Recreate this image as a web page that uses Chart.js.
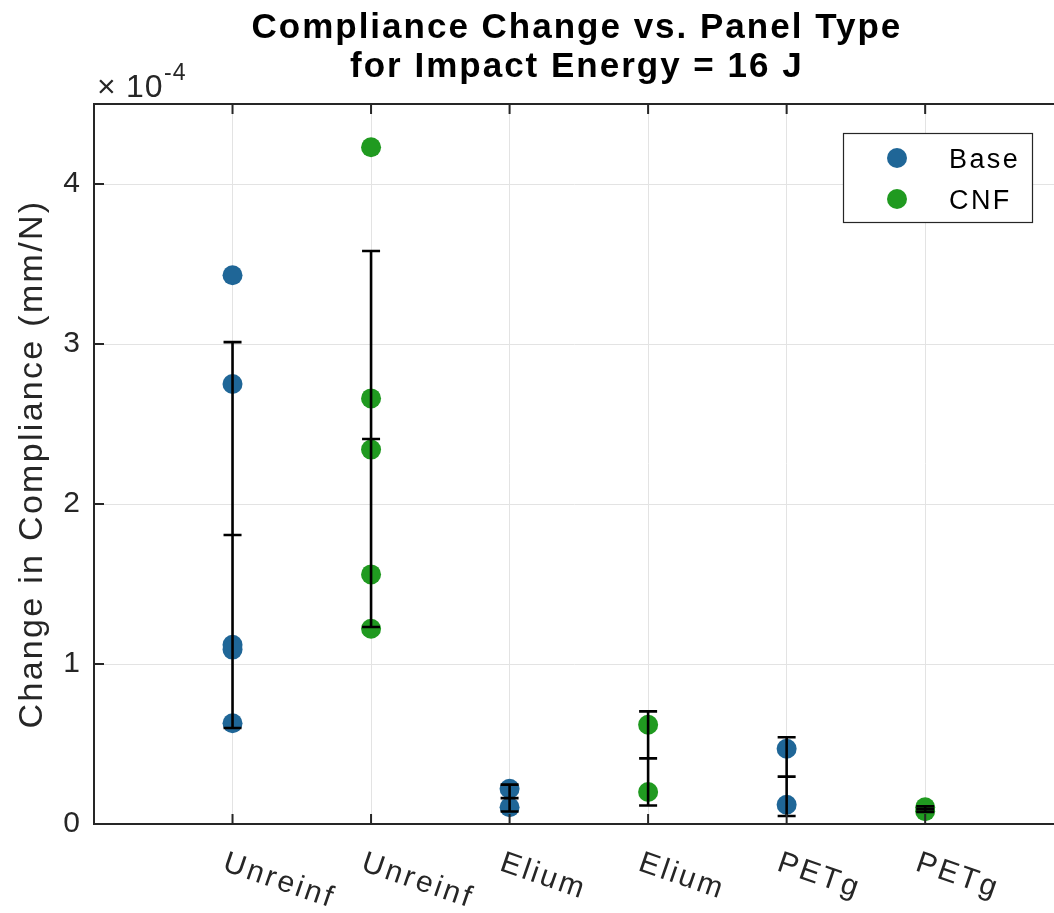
<!DOCTYPE html>
<html>
<head>
<meta charset="utf-8">
<script src="https://cdn.jsdelivr.net/npm/chart.js@4.4.1/dist/chart.umd.min.js"></script>
<style>
  body { margin: 0; background: #fff; }
  canvas { display: block; }
</style>
</head>
<body>
<canvas id="chart" width="1054" height="913"></canvas>
<script>
const categories = ["Unreinf", "Unreinf", "Elium", "Elium", "PETg", "PETg"];
const baseX = [1, 3, 5];
const cnfX = [2, 4, 6];

// change in compliance, units of 1e-4 mm/N
const baseUnreinf = [3.43, 2.75, 1.12, 1.09, 0.63];
const cnfUnreinf = [4.23, 2.66, 2.34, 1.56, 1.22];
const baseElium = [0.22, 0.105];
const cnfElium = [0.62, 0.20];
const basePETg = [0.47, 0.12];
const cnfPETg = [0.105, 0.08];

// error bars (mean +/- std), one per category
const errMean = [1.806, 2.406, 0.162, 0.41, 0.296, 0.093];
const errStd = [1.206, 1.175, 0.084, 0.294, 0.246, 0.018];

const yTicks = [0, 1, 2, 3, 4];

const baseColor = "#1f6697";
const cnfColor = "#209a20";
const axisColor = "#262626";
const gridColor = "#e3e3e3";
const fontFamily = "Arial, 'Liberation Sans', Helvetica, sans-serif";

function toPoints(x, values) {
    return values.map(v => ({ x: x, y: v }));
}

const basePoints = [
    ...toPoints(baseX[0], baseUnreinf),
    ...toPoints(baseX[1], baseElium),
    ...toPoints(baseX[2], basePETg)
];

const cnfPoints = [
    ...toPoints(cnfX[0], cnfUnreinf),
    ...toPoints(cnfX[1], cnfElium),
    ...toPoints(cnfX[2], cnfPETg)
];

const decorPlugin = {
    id: "decor",

    afterDatasetsDraw(chart) {
        const ctx = chart.ctx;
        const xs = chart.scales.x;
        const ys = chart.scales.y;

        // error bars on top of the markers
        ctx.save();
        ctx.strokeStyle = "#000";
        ctx.lineWidth = 2.6;
        errMean.forEach((m, i) => {
            const px = xs.getPixelForValue(i + 1);
            const top = ys.getPixelForValue(m + errStd[i]);
            const mid = ys.getPixelForValue(m);
            const bot = ys.getPixelForValue(m - errStd[i]);
            ctx.beginPath();
            ctx.moveTo(px, top);
            ctx.lineTo(px, bot);
            [top, mid, bot].forEach(py => {
                ctx.moveTo(px - 9, py);
                ctx.lineTo(px + 9, py);
            });
            ctx.stroke();
        });
        ctx.restore();
    },

    afterDraw(chart) {
        const ctx = chart.ctx;
        const area = chart.chartArea;
        const xs = chart.scales.x;
        const ys = chart.scales.y;

        ctx.save();

        // top box line
        ctx.strokeStyle = axisColor;
        ctx.lineWidth = 2;
        ctx.beginPath();
        ctx.moveTo(area.left, area.top);
        ctx.lineTo(area.right, area.top);
        ctx.stroke();

        // inward tick marks
        ctx.beginPath();
        categories.forEach((c, i) => {
            const px = xs.getPixelForValue(i + 1);
            ctx.moveTo(px, area.bottom);
            ctx.lineTo(px, area.bottom - 10);
            ctx.moveTo(px, area.top);
            ctx.lineTo(px, area.top + 10);
        });
        yTicks.forEach(v => {
            const py = ys.getPixelForValue(v);
            ctx.moveTo(area.left, py);
            ctx.lineTo(area.left + 10, py);
        });
        ctx.stroke();

        // rotated category labels
        ctx.fillStyle = axisColor;
        ctx.font = "30px " + fontFamily;
        ctx.letterSpacing = "2.8px";
        ctx.textAlign = "left";
        ctx.textBaseline = "alphabetic";
        categories.forEach((c, i) => {
            const px = xs.getPixelForValue(i + 1);
            ctx.save();
            ctx.translate(px - 11, 870);
            ctx.rotate(19 * Math.PI / 180);
            ctx.fillText(c, 0, 0);
            ctx.restore();
        });

        // y axis label
        ctx.save();
        ctx.font = "34px " + fontFamily;
        ctx.letterSpacing = "2.3px";
        ctx.textAlign = "center";
        ctx.translate(42, (area.top + area.bottom) / 2);
        ctx.rotate(-Math.PI / 2);
        ctx.fillText("Change in Compliance (mm/N)", 0, 0);
        ctx.restore();

        // exponent
        ctx.letterSpacing = "1px";
        ctx.font = "32px " + fontFamily;
        ctx.fillText("\u00d7", 97, 97);
        ctx.fillText("10", 126, 97);
        ctx.font = "23px " + fontFamily;
        ctx.fillText("-4", 164, 80);

        // title
        ctx.fillStyle = "#000";
        ctx.font = "bold 35px " + fontFamily;
        ctx.letterSpacing = "2px";
        ctx.textAlign = "center";
        const cx = xs.getPixelForValue(3.5) - 2;
        ctx.fillText("Compliance Change vs. Panel Type", cx, 38);
        ctx.fillText("for Impact Energy = 16 J", cx, 77);

        // legend
        ctx.fillStyle = "#fff";
        ctx.fillRect(843.5, 133.5, 189, 89);
        ctx.strokeStyle = axisColor;
        ctx.lineWidth = 1.2;
        ctx.strokeRect(843.5, 133.5, 189, 89);
        const entries = [
            { label: "Base", color: baseColor, y: 158 },
            { label: "CNF", color: cnfColor, y: 199 }
        ];
        ctx.font = "27px " + fontFamily;
        ctx.letterSpacing = "2.4px";
        ctx.textAlign = "left";
        entries.forEach(e => {
            ctx.fillStyle = e.color;
            ctx.beginPath();
            ctx.arc(897, e.y, 10, 0, Math.PI * 2);
            ctx.fill();
            ctx.fillStyle = "#000";
            ctx.fillText(e.label, 949, e.y + 10);
        });

        ctx.restore();
    }
};

new Chart(document.getElementById("chart").getContext("2d"), {
    type: "scatter",
    data: {
        datasets: [
            {
                label: "Base",
                data: basePoints,
                backgroundColor: baseColor,
                borderWidth: 0,
                pointRadius: 10,
                pointHoverRadius: 10
            },
            {
                label: "CNF",
                data: cnfPoints,
                backgroundColor: cnfColor,
                borderWidth: 0,
                pointRadius: 10,
                pointHoverRadius: 10
            }
        ]
    },
    options: {
        responsive: false,
        animation: false,
        layout: {
            autoPadding: false,
            padding: { top: 104, right: 0, bottom: 0, left: 0 }
        },
        plugins: {
            legend: { display: false },
            tooltip: { enabled: false }
        },
        scales: {
            x: {
                type: "linear",
                min: 0,
                max: 6.93,
                afterFit: s => { s.height = 89; },
                ticks: { display: false, stepSize: 1, includeBounds: false },
                grid: { color: gridColor, lineWidth: 1, drawTicks: false },
                border: { color: axisColor, width: 2 }
            },
            y: {
                min: 0,
                max: 4.5,
                afterFit: s => { s.width = 94; },
                afterBuildTicks: s => { s.ticks = yTicks.map(v => ({ value: v })); },
                ticks: {
                    stepSize: 1,
                    includeBounds: false,
                    padding: 14,
                    color: axisColor,
                    font: { size: 30, family: fontFamily }
                },
                grid: { color: gridColor, lineWidth: 1, drawTicks: false },
                border: { color: axisColor, width: 2 }
            }
        }
    },
    plugins: [decorPlugin]
});
</script>
</body>
</html>
